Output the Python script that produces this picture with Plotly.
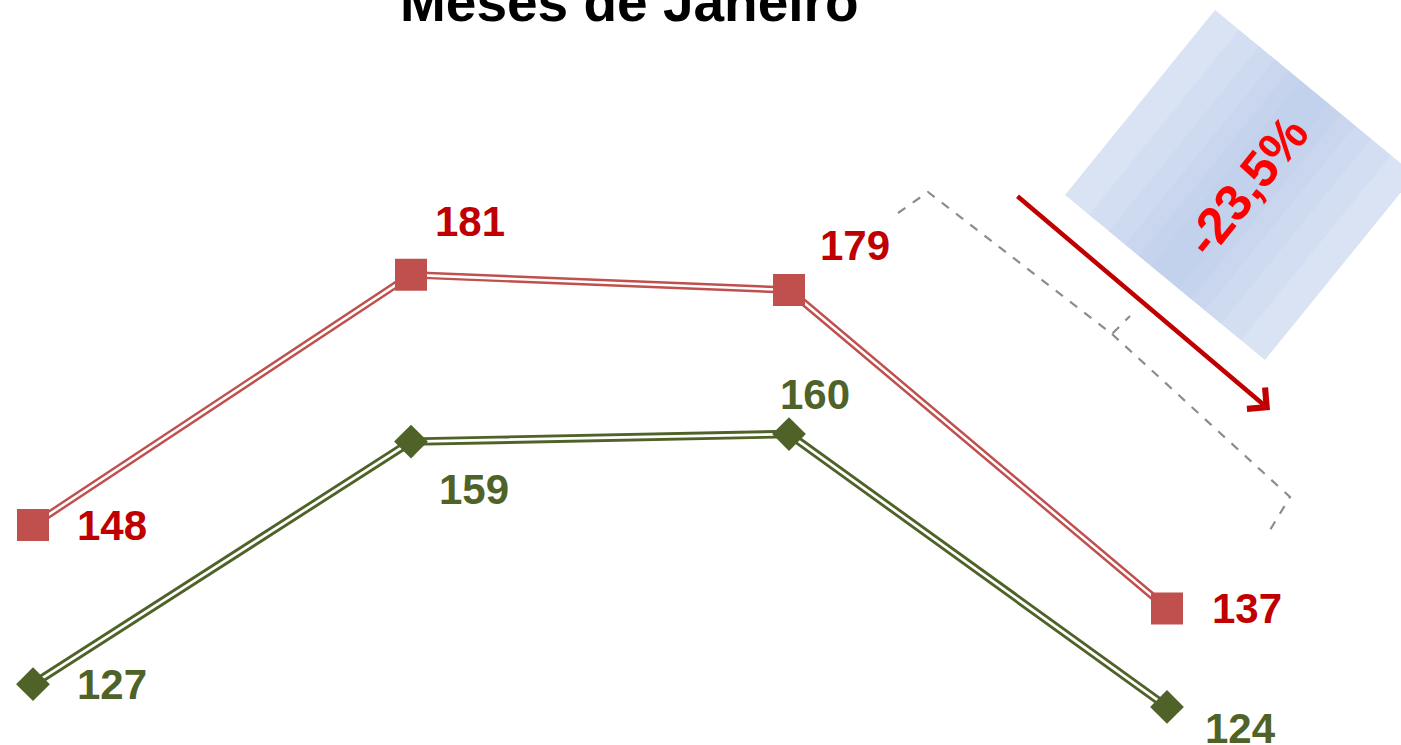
import plotly.graph_objects as go

W, H = 1401, 745

# ---------------- data ----------------
categories = [0, 1, 2, 3]
serie_vermelha = [148, 181, 179, 137]
serie_verde = [127, 159, 160, 124]
titulo = "Meses de Janeiro"
variacao = "-23,5%"

RED_LINE = "#C0504D"
RED_TXT = "#C00000"
GREEN = "#4F6228"

# label offsets (pixels) for each point
red_off = [(79, 0), (59, 53), (66, 45), (80, 0)]
green_off = [(79, 0), (63, -48), (26, 40), (73, -22)]

fig = go.Figure()

def double_line(ys, color, outer, inner):
    fig.add_trace(go.Scatter(x=categories, y=ys, mode="lines",
                             line=dict(color=color, width=outer), hoverinfo="skip"))
    fig.add_trace(go.Scatter(x=categories, y=ys, mode="lines",
                             line=dict(color="white", width=inner), hoverinfo="skip"))

double_line(serie_vermelha, RED_LINE, 7.5, 2.6)
double_line(serie_verde, GREEN, 8.5, 2.8)

fig.add_trace(go.Scatter(x=categories, y=serie_vermelha, mode="markers",
                         marker=dict(symbol="square", size=32, color=RED_LINE)))
fig.add_trace(go.Scatter(x=categories, y=serie_verde, mode="markers",
                         marker=dict(symbol="diamond", size=26, color=GREEN)))

LABEL_FONT = "Liberation Sans, Arial"
for xv, yv, (dx, dy) in zip(categories, serie_vermelha, red_off):
    fig.add_annotation(x=xv, y=yv, text=f"<b>{yv}</b>", showarrow=False,
                       xshift=dx, yshift=dy, xanchor="center", yanchor="middle",
                       font=dict(family=LABEL_FONT, size=42, color=RED_TXT))
for xv, yv, (dx, dy) in zip(categories, serie_verde, green_off):
    fig.add_annotation(x=xv, y=yv, text=f"<b>{yv}</b>", showarrow=False,
                       xshift=dx, yshift=dy, xanchor="center", yanchor="middle",
                       font=dict(family=LABEL_FONT, size=42, color=GREEN))

# ---------------- decorations (pixel -> paper) ----------------
def P(px, py):
    return px / W, 1 - py / H

def path(points, close=True):
    s = ""
    for i, (px, py) in enumerate(points):
        x, y = P(px, py)
        s += ("M" if i == 0 else "L") + f"{x:.5f},{y:.5f} "
    return s + ("Z" if close else "")

top, left, bottom, right = (1215, 10), (1065, 195), (1265, 360), (1415, 175)
ux, uy = right[0] - top[0], right[1] - top[1]

shapes = []
shapes.append(dict(type="path", xref="paper", yref="paper", path=path([top, right, bottom, left]),
                   fillcolor="#DAE3F4", line=dict(width=0), layer="below"))
for a, b in [(0.12, 0.88), (0.22, 0.78), (0.3, 0.7), (0.37, 0.63), (0.43, 0.57)]:
    pts = [(top[0] + a * ux, top[1] + a * uy), (top[0] + b * ux, top[1] + b * uy),
           (left[0] + b * ux, left[1] + b * uy), (left[0] + a * ux, left[1] + a * uy)]
    shapes.append(dict(type="path", xref="paper", yref="paper", path=path(pts),
                       fillcolor="rgba(185,202,233,0.18)", line=dict(width=0), layer="below"))

# dashed bracket
br1 = path([(898, 213), (928, 192), (1112, 334), (1130, 316)], close=False)
br2 = path([(1112, 334), (1290, 497), (1270, 530)], close=False)
for p in (br1, br2):
    shapes.append(dict(type="path", xref="paper", yref="paper", path=p,
                       line=dict(color="#8C8C8C", width=2.2, dash="dash")))

fig.update_layout(shapes=shapes)

# red arrow
tx, ty = P(1270, 410)
fig.add_annotation(xref="paper", yref="paper", x=tx, y=ty, ax=-254, ay=-215,
                   axref="pixel", ayref="pixel", text="", showarrow=True,
                   arrowhead=4, arrowsize=1.2, arrowwidth=4.5, arrowcolor=RED_TXT)

# percentage text
cx, cy = P(1247, 186)
fig.add_annotation(xref="paper", yref="paper", x=cx, y=cy, text=f"<b>{variacao}</b>",
                   showarrow=False, textangle=-51, xanchor="center", yanchor="middle",
                   font=dict(family="Liberation Sans, Arial", size=51, color="#FF0000"))

# title (cut at top)
gx, gy = P(629, 2)
fig.add_annotation(xref="paper", yref="paper", x=gx, y=gy, text=f"<b>{titulo}</b>",
                   showarrow=False, xanchor="center", yanchor="middle",
                   font=dict(family="Liberation Sans, Arial", size=55, color="black"))

# axes: range chosen so points sit at measured pixel positions
x_span = 3 * W / 1134.0
x0 = -33 * x_span / W
y_scale = 7.58
y1 = 148 + 525 / y_scale
y0 = y1 - H / y_scale

fig.update_xaxes(range=[x0, x0 + x_span], visible=False, fixedrange=True)
fig.update_yaxes(range=[y0, y1], visible=False, fixedrange=True)
fig.update_layout(width=W, height=H, margin=dict(l=0, r=0, t=0, b=0),
                  paper_bgcolor="white", plot_bgcolor="white", showlegend=False)

fig.write_html("out.html", config={"displayModeBar": False},
               post_script="document.body.style.margin='0';document.body.style.overflow='hidden';")
